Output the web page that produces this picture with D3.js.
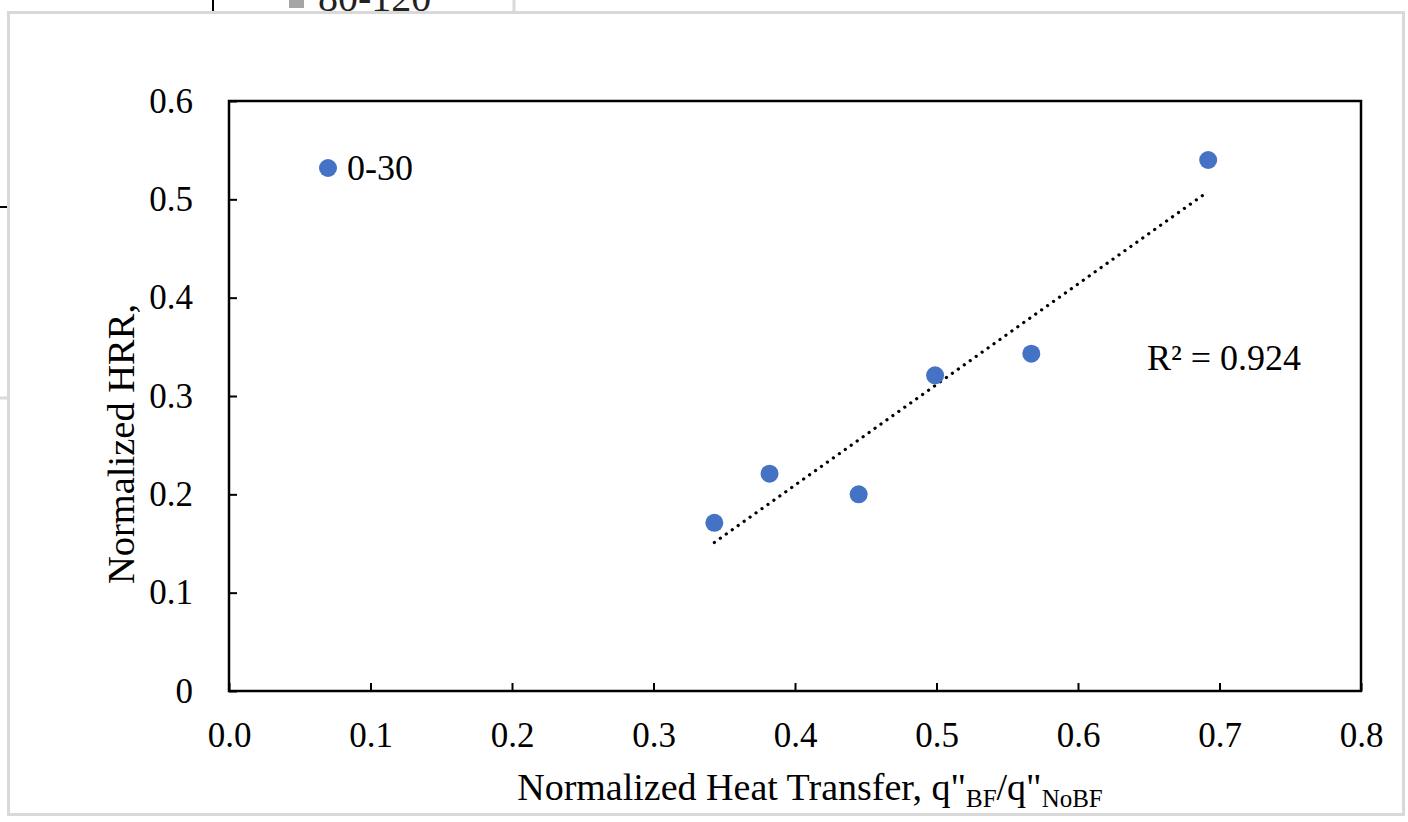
<!DOCTYPE html>
<html>
<head>
<meta charset="utf-8">
<script src="https://cdn.jsdelivr.net/npm/d3@7"></script>
<style>
  body { margin: 0; background: #fff; }
  svg { display: block; }
</style>
</head>
<body>
<div id="chart"></div>
<script>
// data
const heatTransfer = [0.343, 0.382, 0.445, 0.499, 0.567, 0.692];
const normHRR = [0.171, 0.221, 0.200, 0.321, 0.343, 0.540];
const seriesName = "0-30";
const r2Label = "R\u00b2 = 0.924";
const xTicks = [0, 0.1, 0.2, 0.3, 0.4, 0.5, 0.6, 0.7, 0.8];
const yTicks = [0, 0.1, 0.2, 0.3, 0.4, 0.5, 0.6];

const W = 1408, H = 822;
const margin = {top: 101, right: 47, bottom: 131, left: 229};
const width = W - margin.left - margin.right,
      height = H - margin.top - margin.bottom;
const serif = "'Liberation Serif', 'Times New Roman', serif";

const svg = d3.select("#chart").append("svg")
    .attr("width", W)
    .attr("height", H)
    .style("font-family", serif);

// bits of the chart that sits behind this one
svg.append("line").attr("x1", 213).attr("x2", 213).attr("y1", 0).attr("y2", 12)
    .attr("stroke", "#000").attr("stroke-width", 2);
svg.append("rect").attr("x", 289).attr("y", 0).attr("width", 15).attr("height", 8).attr("fill", "#a5a5a5");
svg.append("text").attr("x", 318).attr("y", 11).text("80-120")
    .style("font-size", "40px").attr("fill", "#222");
svg.append("line").attr("x1", 514).attr("x2", 514).attr("y1", 0).attr("y2", 12)
    .attr("stroke", "#d9d9d9").attr("stroke-width", 3);
svg.append("line").attr("x1", 0).attr("x2", 8).attr("y1", 207).attr("y2", 207)
    .attr("stroke", "#000").attr("stroke-width", 2);
svg.append("line").attr("x1", 0).attr("x2", 8).attr("y1", 398).attr("y2", 398)
    .attr("stroke", "#d9d9d9").attr("stroke-width", 3);

// chart frame
svg.append("rect")
    .attr("x", 8.5).attr("y", 12.5)
    .attr("width", 1395).attr("height", 802)
    .attr("fill", "#fff")
    .attr("stroke", "#d9d9d9")
    .attr("stroke-width", 3);

const g = svg.append("g")
    .attr("transform", `translate(${margin.left},${margin.top})`);

const x = d3.scaleLinear().domain([0, 0.8]).range([0, width]);
const y = d3.scaleLinear().domain([0, 0.6]).range([height, 0]);

const xAxis = d3.axisBottom(x)
    .tickValues(xTicks)
    .tickSizeInner(-8)
    .tickSizeOuter(0)
    .tickPadding(31)
    .tickFormat(d3.format(".1f"));

const yAxis = d3.axisLeft(y)
    .tickValues(yTicks)
    .tickSizeInner(-8)
    .tickSizeOuter(0)
    .tickPadding(36)
    .tickFormat(d => d === 0 ? "0" : d3.format(".1f")(d));

const gx = g.append("g")
    .attr("transform", `translate(0,${height})`)
    .call(xAxis);
const gy = g.append("g").call(yAxis);

[gx, gy].forEach(a => {
    a.select(".domain").remove();
    a.selectAll(".tick line").attr("stroke", "#000").attr("stroke-width", 2);
    a.selectAll(".tick text")
        .attr("fill", "#000")
        .style("font-size", "35px")
        .style("font-family", serif);
});

// plot box
g.append("rect")
    .attr("width", width).attr("height", height)
    .attr("fill", "none")
    .attr("stroke", "#000")
    .attr("stroke-width", 2.5);

// linear trendline from least squares
const pts = heatTransfer.map((v, i) => [v, normHRR[i]]);
const mx = d3.mean(heatTransfer), my = d3.mean(normHRR);
const slope = d3.sum(pts, p => (p[0] - mx) * (p[1] - my)) / d3.sum(pts, p => (p[0] - mx) ** 2);
const icpt = my - slope * mx;
const [x0, x1] = d3.extent(heatTransfer);

g.append("line")
    .attr("x1", x(x0)).attr("y1", y(icpt + slope * x0))
    .attr("x2", x(x1)).attr("y2", y(icpt + slope * x1))
    .attr("stroke", "#000")
    .attr("stroke-width", 3.2)
    .attr("stroke-linecap", "round")
    .attr("stroke-dasharray", "0.1,7.2");

g.selectAll("circle.pt")
    .data(pts)
    .join("circle")
    .attr("class", "pt")
    .attr("cx", d => x(d[0]))
    .attr("cy", d => y(d[1]))
    .attr("r", 9)
    .attr("fill", "#4472c4");

// legend inside plot
g.append("circle")
    .attr("cx", 99).attr("cy", 67).attr("r", 9)
    .attr("fill", "#4472c4");
g.append("text")
    .attr("x", 118).attr("y", 79)
    .text(seriesName)
    .style("font-size", "36px");

g.append("text")
    .attr("x", 918).attr("y", 269)
    .text(r2Label)
    .style("font-size", "36px");

// axis titles
const xt = svg.append("text")
    .attr("x", 810).attr("y", 800)
    .attr("text-anchor", "middle")
    .style("font-size", "38px");
xt.append("tspan").text("Normalized Heat Transfer, q\"");
xt.append("tspan").text("BF").attr("dy", 7).style("font-size", "25px");
xt.append("tspan").text("/q\"").attr("dy", -7);
xt.append("tspan").text("NoBF").attr("dy", 7).style("font-size", "25px");

svg.append("text")
    .attr("transform", "translate(134,444) rotate(-90)")
    .attr("text-anchor", "middle")
    .style("font-size", "38.5px")
    .text("Normalized HRR,");
</script>
</body>
</html>
